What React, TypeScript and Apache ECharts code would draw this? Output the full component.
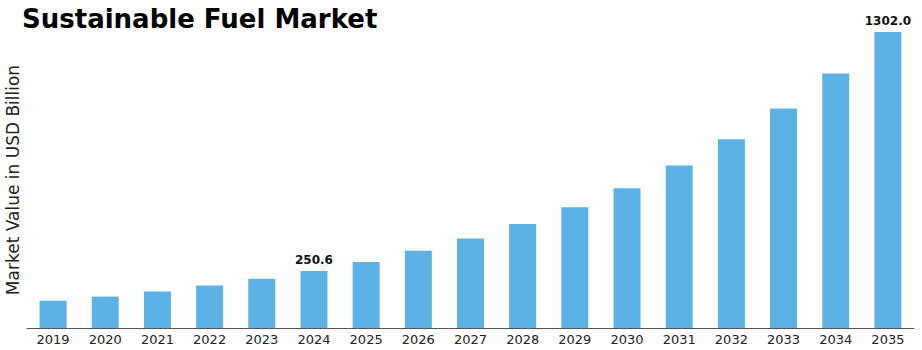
import React, { useEffect, useRef } from "react";
import * as echarts from "echarts";

const categories = ["2019","2020","2021","2022","2023","2024","2025","2026","2027","2028","2029","2030","2031","2032","2033","2034","2035"];
const values = [120, 138, 161, 187, 217, 250.6, 290, 340, 394, 457, 531, 615, 715, 830, 965, 1120, 1302.0];
const labeledYears = ["2024", "2035"];

export default function App() {
  const ref = useRef<HTMLDivElement>(null);
  useEffect(() => {
    if (!ref.current) return;
    const chart = echarts.init(ref.current, null, { renderer: "svg" });
    const font = "DejaVu Sans, sans-serif";
    chart.setOption({
      animation: false,
      title: {
        text: "Sustainable Fuel Market",
        left: 22,
        top: 6,
        padding: 0,
        textStyle: { fontFamily: font, fontWeight: "bold", fontSize: 26, color: "#000" },
      },
      grid: { left: 27, right: 8, top: 32, bottom: 22, containLabel: false, outerBoundsMode: "none" },
      xAxis: {
        type: "category",
        data: categories,
        axisLine: { lineStyle: { color: "#555", width: 1 } },
        axisTick: { show: false },
        axisLabel: { fontFamily: font, fontSize: 13, color: "#222", margin: 5 },
      },
      yAxis: {
        type: "value",
        min: 0,
        max: 1302,
        name: "Market Value in USD Billion",
        nameLocation: "middle",
        nameGap: 6,
        nameTextStyle: { fontFamily: font, fontSize: 17, color: "#222" },
        axisLabel: { show: false },
        axisLine: { show: false },
        axisTick: { show: false },
        splitLine: { show: false },
      },
      series: [
        {
          type: "bar",
          barWidth: 27,
          data: values.map((v, i) => ({
            value: v,
            label: {
              show: labeledYears.includes(categories[i]),
              position: "top",
              distance: 5,
              formatter: (p: any) => Number(p.value).toFixed(1),
              fontFamily: font,
              fontWeight: "bold",
              fontSize: 12,
              color: "#111",
            },
          })),
          itemStyle: { color: "#5CB2E4" },
        },
      ],
    });
    return () => chart.dispose();
  }, []);
  return <div ref={ref} style={{ position: "absolute", left: 0, top: 0, width: 922, height: 350 }} />;
}
